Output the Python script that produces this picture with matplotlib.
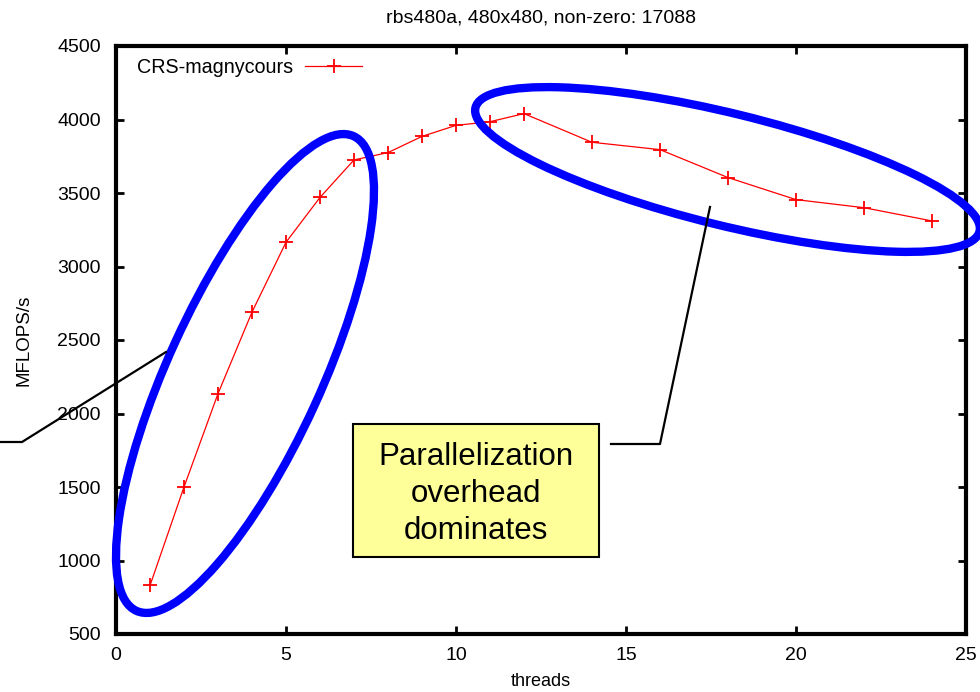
import numpy as np
import matplotlib
matplotlib.use('Agg')
import matplotlib.pyplot as plt
from matplotlib.patches import Ellipse, Rectangle
from matplotlib.lines import Line2D

plt.rcParams['font.family'] = ['Liberation Sans', 'DejaVu Sans']

# data
threads = [1, 2, 3, 4, 5, 6, 7, 8, 9, 10, 11, 12, 14, 16, 18, 20, 22, 24]
mflops = [830, 1500, 2135, 2690, 3165, 3470, 3725, 3775, 3885, 3960, 3985, 4040,
          3845, 3795, 3605, 3455, 3400, 3310]
series_name = 'CRS-magnycours'
title = 'rbs480a, 480x480, non-zero: 17088'
xticks = [0, 5, 10, 15, 20, 25]
yticks = [500, 1000, 1500, 2000, 2500, 3000, 3500, 4000, 4500]
note = 'Parallelization\noverhead\ndominates'

W, H = 980, 692
fig = plt.figure(figsize=(W / 100, H / 100), dpi=100)
ax = fig.add_axes([116 / W, (H - 634) / H, 850 / W, 588 / H])

ax.plot(threads, mflops, color='red', lw=0.9, marker='+', ms=10, mew=1.3,
        label=series_name)

ax.set_xlim(0, 25)
ax.set_ylim(500, 4500)
ax.set_xticks(xticks)
ax.set_yticks(yticks)
ax.tick_params(direction='in', length=6, width=2, labelsize=14, color='black',
               top=True, right=True)
ax.tick_params(axis='y', pad=11)
ax.tick_params(axis='x', pad=9)
for s in ax.spines.values():
    s.set_linewidth(3)
ax.set_title(title, fontsize=14, pad=17)
ax.set_xlabel('threads', fontsize=13, labelpad=7)
ax.set_ylabel('MFLOPS/s', fontsize=13.5, labelpad=18)

leg = ax.legend(loc='upper left', bbox_to_anchor=(21 / 850, 0.98), frameon=False,
                markerfirst=False, fontsize=14.2, handlelength=2.9, handletextpad=0.6,
                borderaxespad=0, borderpad=0)

# annotation overlay in pixel coordinates (y down)
ov = fig.add_axes([0, 0, 1, 1], zorder=5)
ov.set_xlim(0, W)
ov.set_ylim(H, 0)
ov.axis('off')
ov.patch.set_visible(False)

ov.add_patch(Ellipse((245, 373.5), 522, 153, angle=-65.4, fill=False,
                     edgecolor='#0000ff', lw=6))
ov.add_patch(Ellipse((727.5, 169.5), 519, 112, angle=13.8, fill=False,
                     edgecolor='#0000ff', lw=6))

ov.add_line(Line2D([0, 22, 166], [442, 442, 352], color='black', lw=1.6))
ov.add_line(Line2D([611, 660, 710], [444, 444, 207], color='black', lw=1.6))

ov.add_patch(Rectangle((353, 424), 246, 133, facecolor='#ffff99',
                       edgecolor='black', lw=1.5))
ov.text(476, 494, note, ha='center', va='center', fontsize=22.5,
        linespacing=1.3)

fig.savefig('out.png', dpi=100)
